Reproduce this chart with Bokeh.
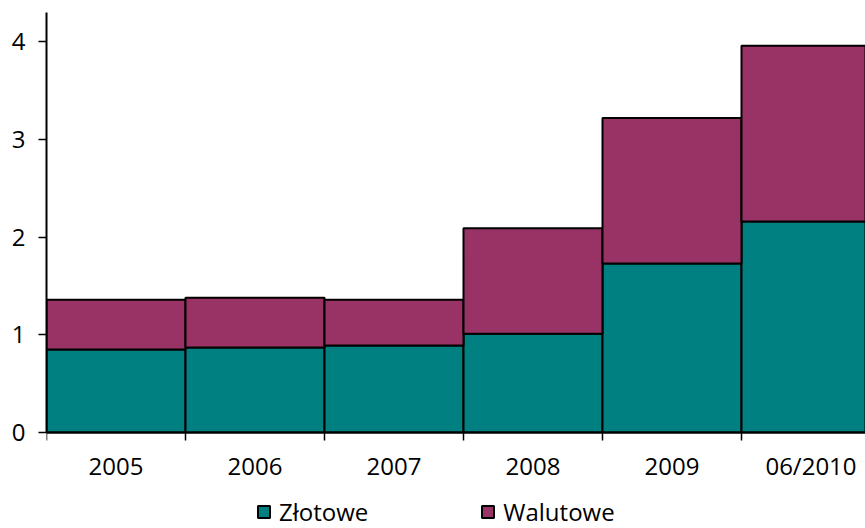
import numpy as np
from bokeh.plotting import figure
from bokeh.models import FixedTicker, Legend, LegendItem, Range1d
from bokeh.embed import file_html
from bokeh.resources import INLINE

years = ["2005", "2006", "2007", "2008", "2009", "06/2010"]
zlotowe = [0.85, 0.87, 0.89, 1.01, 1.73, 2.16]
walutowe = [0.51, 0.51, 0.47, 1.08, 1.49, 1.80]
y_ticks = [0, 1, 2, 3, 4]

FONT = "Open Sans"

xs = np.arange(len(years)) + 0.5
z = np.array(zlotowe)
w = np.array(walutowe)

YMAX = 4.30
px_per_unit = 420 / YMAX
YMIN = -96 / px_per_unit

p = figure(width=865, height=528, output_backend="svg", toolbar_location=None,
           x_range=Range1d(0, 819 / 139), y_range=Range1d(YMIN, YMAX),
           min_border_left=46, min_border_right=0, min_border_top=12, min_border_bottom=0)
p.outline_line_color = None
p.xgrid.grid_line_color = None
p.ygrid.grid_line_color = None

r1 = p.vbar(x=xs, width=1, bottom=0, top=z, fill_color="#008080", line_color="black", line_width=2)
r2 = p.vbar(x=xs, width=1, bottom=z, top=z + w, fill_color="#993366", line_color="black", line_width=2)

p.xaxis.fixed_location = 0
p.xaxis.ticker = FixedTicker(ticks=list(xs), minor_ticks=list(range(len(years) + 1)))
p.xaxis.major_label_overrides = {float(x): y for x, y in zip(xs, years)}
p.xaxis.major_tick_line_color = None
p.xaxis.minor_tick_in = 0
p.xaxis.minor_tick_out = 8
p.xaxis.minor_tick_line_color = "black"
p.xaxis.minor_tick_line_width = 1.5
p.xaxis.major_label_standoff = 8
p.yaxis.ticker = FixedTicker(ticks=y_ticks)
p.yaxis.bounds = (0, YMAX)
p.yaxis.major_tick_in = 0
p.yaxis.major_tick_out = 8
p.yaxis.minor_tick_line_color = None
p.yaxis.major_tick_line_width = 1.5
p.yaxis.major_label_standoff = 13
for ax in (p.xaxis, p.yaxis):
    ax.axis_line_color = "black"
    ax.axis_line_width = 2
    ax.major_label_text_font = FONT
    ax.major_label_text_font_size = "24px"
    ax.major_label_text_color = "black"

legend = Legend(items=[LegendItem(label="Złotowe", renderers=[r1]),
                       LegendItem(label="Walutowe", renderers=[r2])],
                orientation="horizontal", location=(210, 0))
legend.label_text_font = FONT
legend.label_text_font_size = "24px"
legend.label_text_color = "black"
legend.glyph_width = 15
legend.glyph_height = 15
legend.label_standoff = 8
legend.spacing = 112
legend.padding = 0
legend.margin = 0
legend.border_line_color = None
legend.background_fill_alpha = 0
p.add_layout(legend, "center")

open("out.html", "w").write(file_html(p, INLINE))
